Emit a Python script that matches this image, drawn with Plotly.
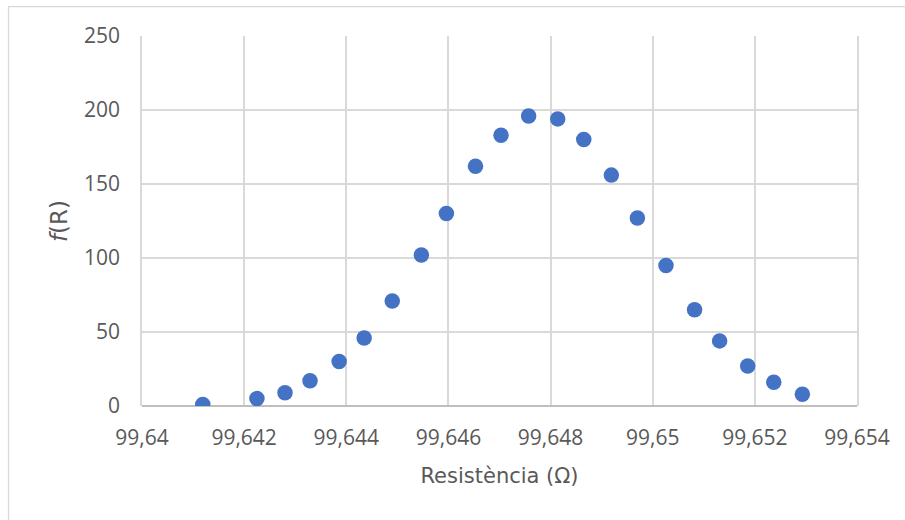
import plotly.graph_objects as go

# Resistance values (ohm) and their frequency f(R)
resistance = [99.64119, 99.64225, 99.64280, 99.64329, 99.64386, 99.64435,
              99.64490, 99.64547, 99.64596, 99.64653, 99.64703, 99.64757,
              99.64814, 99.64865, 99.64919, 99.64970, 99.65026, 99.65082,
              99.65131, 99.65186, 99.65237, 99.65293]
frequency = [1, 5, 9, 17, 30, 46,
             71, 102, 130, 162, 183, 196,
             194, 180, 156, 127, 95, 65,
             44, 27, 16, 8]

x_ticks = [99.640, 99.642, 99.644, 99.646, 99.648, 99.650, 99.652, 99.654]
x_tick_text = ["99,64", "99,642", "99,644", "99,646", "99,648", "99,65", "99,652", "99,654"]
y_ticks = [0, 50, 100, 150, 200, 250]

TICK_FONT = dict(family="Open Sans", size=21, color="#595959")
TITLE_FONT = dict(family="DejaVu Sans", size=21, color="#595959")
GRID = "#d9d9d9"

fig = go.Figure(
    go.Scatter(
        x=resistance,
        y=frequency,
        mode="markers",
        marker=dict(size=15.5, color="#4472C4"),
        showlegend=False,
        hoverinfo="x+y",
    )
)

fig.update_layout(
    width=905,
    height=520,
    margin=dict(l=142, r=48, t=35.5, b=113.5),
    paper_bgcolor="white",
    plot_bgcolor="white",
    font=TICK_FONT,
    shapes=[
        # chart-area frame
        dict(
            type="rect", xref="paper", yref="paper",
            x0=-0.1867, x1=1.08, y0=-0.32, y1=1.0795,
            line=dict(color=GRID, width=1.3), fillcolor="rgba(0,0,0,0)",
            layer="below",
        )
    ],
)

fig.update_xaxes(
    range=[99.640, 99.654],
    tickvals=x_ticks,
    ticktext=x_tick_text,
    showgrid=True,
    gridcolor=GRID,
    gridwidth=1.5,
    zeroline=False,
    showline=False,
    ticks="",
    ticklabelstandoff=17,
    tickfont=TICK_FONT,
    title=dict(text="Resistència (Ω)", font=TITLE_FONT, standoff=18),
)

fig.update_yaxes(
    range=[0, 250],
    tickvals=y_ticks,
    showgrid=True,
    gridcolor=GRID,
    gridwidth=1.5,
    zeroline=True,
    zerolinecolor="#bfbfbf",
    zerolinewidth=2,
    showline=True,
    linecolor=GRID,
    linewidth=1.5,
    mirror=True,
    ticks="",
    ticklabelstandoff=16,
    tickfont=TICK_FONT,
    title=dict(text="<i>f</i>(R)", font=dict(family="DejaVu Sans", size=23, color="#595959"), standoff=10),
)

fig.write_html("out.html")
